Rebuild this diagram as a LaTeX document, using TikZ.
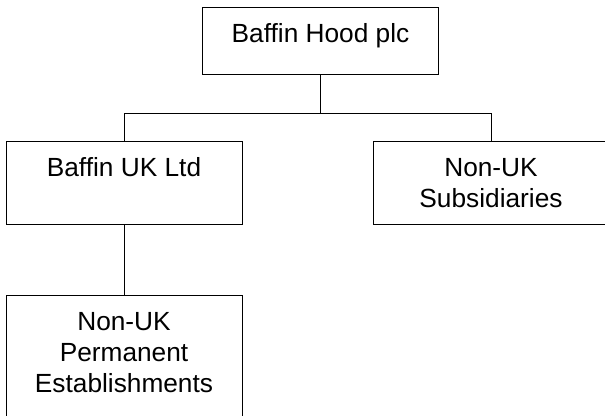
\documentclass[tikz,border=0pt]{standalone}
\usepackage{fontspec}
\setmainfont{Liberation Sans}
\usepackage{tikz}

\begin{document}
\begin{tikzpicture}[x=0.75pt,y=-0.75pt,
    unitbox/.style={draw,line width=0.75pt,anchor=north,align=center,
        minimum width=177pt,inner xsep=0pt,inner ysep=12pt,
        text height=14.4pt,
        font=\fontsize{19.7}{23.25}\selectfont},
    link/.style={line width=0.75pt}]
    \useasboundingbox (0,0) rectangle (605,416);

    \node[unitbox,text depth=11.85pt] (hood) at (320.5,6.7) {Baffin Hood plc};
    \node[unitbox,text depth=23.85pt] (ukltd) at (124,141) {Baffin UK Ltd};
    \node[unitbox,text height=37.65pt,text depth=0.6pt] (subs) at (491,141)
        {Non-UK\\Subsidiaries};
    \node[unitbox,text height=60.9pt,text depth=33.5pt] (estab) at (124,295)
        {Non-UK\\Permanent\\Establishments};

    \coordinate (split) at (320.5,114);
    \draw[link] (hood.south) -- (split);
    \draw[link] (split) -| (ukltd.north);
    \draw[link] (split) -| (subs.north);
    \draw[link] (ukltd.south) -- (estab.north);
\end{tikzpicture}
\end{document}
